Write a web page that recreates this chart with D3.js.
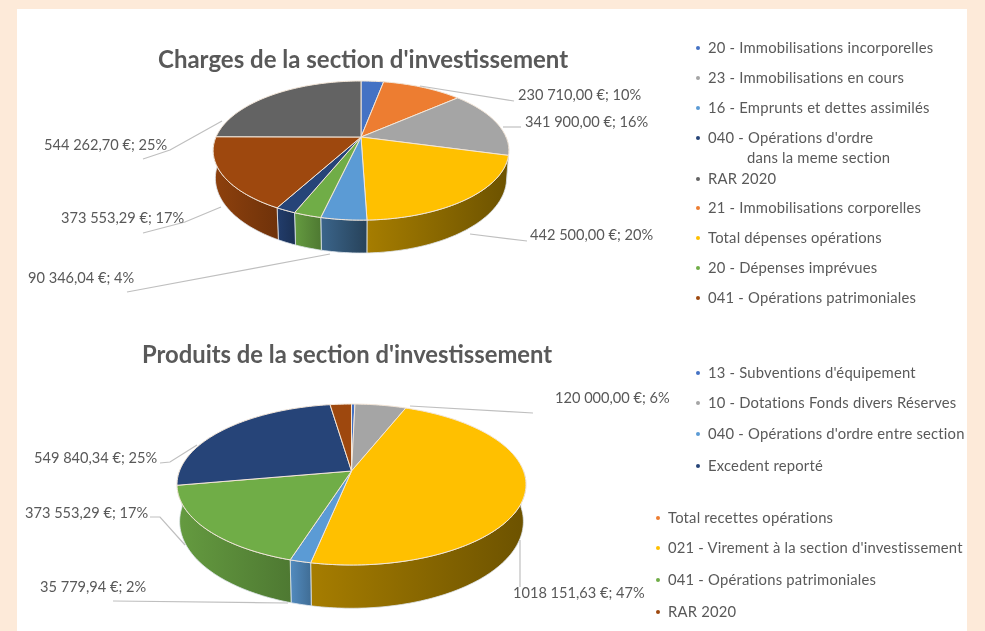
<!DOCTYPE html>
<html>
<head>
<meta charset="utf-8" />
<title>Section d'investissement</title>
<style>
html, body { margin:0; padding:0; background:#fdead9; }
svg { display:block; filter:blur(0.7px); }
text { font-family:Lato, "Open Sans", sans-serif; fill:#595959; }
.small { font-size:14.6px; }
.leg { font-size:14.8px; letter-spacing:0.2px; }
</style>
</head>
<body>
<svg id="chart" width="985" height="631"></svg>
<script src="https://d3js.org/d3.v7.min.js"></script>
<script>
// top pie
var chargeCats = ["20 - Immobilisations incorporelles","21 - Immobilisations corporelles","23 - Immobilisations en cours","Total dépenses opérations","16 - Emprunts et dettes assimilés","20 - Dépenses imprévues","040 - Opérations d'ordre","041 - Opérations patrimoniales","RAR 2020"]
var chargeValues = [65000, 230710, 341900, 442500, 90346.04, 55000, 40000, 373553.29, 544262.70]
var chargeColors = ["#4472c4","#ed7d31","#a5a5a5","#ffc000","#5b9bd5","#70ad47","#264478","#9e480e","#636363"]
var chargeLabels = ["", "230 710,00 €; 10%", "341 900,00 €; 16%", "442 500,00 €; 20%", "90 346,04 €; 4%", "", "", "373 553,29 €; 17%", "544 262,70 €; 25%"]

// bottom pie
var produitCats = ["13 - Subventions d'équipement","10 - Dotations Fonds divers Réserves","021 - Virement à la section d'investissement","040 - Opérations d'ordre entre section","041 - Opérations patrimoniales","Excedent reporté","RAR 2020"]
var produitValues = [8000, 120000, 1018151.63, 35779.94, 373553.29, 549840.34, 50000]
var produitColors = ["#4472c4","#a5a5a5","#ffc000","#5b9bd5","#70ad47","#264478","#9e480e"]
var produitLabels = ["", "120 000,00 €; 6%", "1018 151,63 €; 47%", "35 779,94 €; 2%", "373 553,29 €; 17%", "549 840,34 €; 25%", ""]

var legendTop = [
    ["20 - Immobilisations incorporelles", "#4472c4"],
    ["23 - Immobilisations en cours", "#a5a5a5"],
    ["16 - Emprunts et dettes assimilés", "#5b9bd5"],
    ["040 - Opérations d'ordre", "#264478"],
    ["RAR 2020", "#636363"],
    ["21 - Immobilisations corporelles", "#ed7d31"],
    ["Total dépenses opérations", "#ffc000"],
    ["20 - Dépenses imprévues", "#70ad47"],
    ["041 - Opérations patrimoniales", "#9e480e"]
]
var legendTopY = [48, 78, 108, 138, 179, 208, 238, 268, 298]

var legendBottom = [
    ["13 - Subventions d'équipement", "#4472c4", 698, 373],
    ["10 - Dotations Fonds divers Réserves", "#a5a5a5", 698, 403],
    ["040 - Opérations d'ordre entre section", "#5b9bd5", 698, 434],
    ["Excedent reporté", "#264478", 698, 466],
    ["Total recettes opérations", "#ed7d31", 658, 518],
    ["021 - Virement à la section d'investissement", "#ffc000", 658, 548],
    ["041 - Opérations patrimoniales", "#70ad47", 658, 580],
    ["RAR 2020", "#9e480e", 658, 612]
]

var svg = d3.select("#chart")
var defs = svg.append("defs")

svg.append("rect").attr("x", 17).attr("y", 9).attr("width", 950).attr("height", 622).attr("fill", "#fff")

// homography for a tilted disc: v is towards the viewer
function projector(geo) {
    var sx = d3.scaleLinear().domain([-1, 1]).range([geo.cx - geo.b, geo.cx + geo.b])
    var sy = d3.scaleLinear().domain([-1, 1]).range([geo.cy - geo.a, geo.cy + geo.a])
    return function(a, r, drop) {
        var u = r * Math.sin(a), v = -r * Math.cos(a)
        var s = 1 / (1 - geo.k * v)
        var shrink = drop ? geo.shrink : 1
        return [geo.cx + (sx(u) - geo.cx) * s * shrink, sy(0) + (sy(v) - sy(0)) * s + (drop ? geo.depth * s : 0)]
    }
}

function shade(c, f) {
    return d3.rgb(c).darker(f).formatHex()
}

function drawPie(id, values, colors, geo) {
    var pie = d3.pie().value(function(d) { return d }).sort(null)
    var arcs = pie(values)
    var proj = projector(geo)
    var line = d3.line()
    var g = svg.append("g").attr("class", id)

    // side walls, only the front half of the rim shows
    arcs.forEach(function(d, i) {
        if (i > geo.lastWall) return
        var from = Math.max(d.startAngle, Math.PI / 2), to = Math.min(d.endAngle, Math.PI * 1.5)
        if (i === geo.lastWall) to = Math.PI * 1.5
        if (to <= from) return
        var steps = d3.range(from, to, 0.02).concat([to])
        var pts = steps.map(function(a) { return proj(a, 1, false) })
            .concat(steps.slice().reverse().map(function(a) { return proj(a, 1, true) }))
        var xs = d3.extent(pts, function(p) { return p[0] })
        var right = d.startAngle < Math.PI * 0.99
        var grad = defs.append("linearGradient").attr("id", id + "-side" + i)
            .attr("gradientUnits", "userSpaceOnUse")
            .attr("x1", xs[0]).attr("x2", xs[1]).attr("y1", 0).attr("y2", 0)
        grad.append("stop").attr("offset", 0).attr("stop-color", shade(colors[i], right ? 1.2 : 0.3))
        grad.append("stop").attr("offset", 1).attr("stop-color", shade(colors[i], right ? 2.4 : 1))
        g.append("path").attr("d", line(pts) + "Z").attr("fill", "url(#" + id + "-side" + i + ")")
            .attr("stroke", "#dfe6ee").attr("stroke-width", 0.8)
    })

    // top faces
    arcs.forEach(function(d, i) {
        if (d.endAngle === d.startAngle) return
        var steps = d3.range(d.startAngle, d.endAngle, 0.02).concat([d.endAngle])
        var pts = [proj(0, 0, false)].concat(steps.map(function(a) { return proj(a, 1, false) }))
        g.append("path").attr("d", line(pts) + "Z").attr("fill", colors[i])
            .attr("stroke", "#f3e6d8").attr("stroke-width", 1).attr("stroke-linejoin", "round")
    })
}

function leader(points) {
    svg.append("path").attr("d", d3.line()(points)).attr("fill", "none")
        .attr("stroke", "#bfbfbf").attr("stroke-width", 1.2)
}

function label(txt, x, y) {
    svg.append("text").attr("class", "small").attr("x", x).attr("y", y).text(txt)
}

drawPie("charges", chargeValues, chargeColors, {cx:361, cy:137, a:66.9, b:145, k:0.195, depth:26.5, shrink:0.985, lastWall:7})
drawPie("produits", produitValues, produitColors, {cx:351.5, cy:471, a:78.2, b:172, k:0.168, depth:36, shrink:0.985, lastWall:4})

svg.append("text").attr("x", 158).attr("y", 68).attr("font-size", 24).attr("font-weight", 700).text("Charges de la section d'investissement")
svg.append("text").attr("x", 142).attr("y", 363).attr("font-size", 23.8).attr("font-weight", 700).text("Produits de la section d'investissement")

// leader lines and data labels
leader([[420, 86], [514, 101]])
leader([[503, 127], [521, 127]])
leader([[470, 234], [527, 241]])
leader([[330, 254], [127, 292]])
leader([[222, 121], [170, 150], [143, 159]])
leader([[221, 207], [185, 222], [143, 233]])
label(chargeLabels[1], 518, 100)
label(chargeLabels[2], 525, 127)
label(chargeLabels[3], 530, 240)
label(chargeLabels[4], 28, 283)
label(chargeLabels[7], 61, 223)
label(chargeLabels[8], 44, 150)

leader([[410, 406], [533, 413]])
leader([[520, 540], [520, 587]])
leader([[288, 603], [113, 601]])
leader([[185, 545], [160, 517], [150, 517]])
leader([[197, 445], [170, 462], [160, 463]])
label(produitLabels[1], 555, 403)
label(produitLabels[2], 513, 598)
label(produitLabels[3], 40, 592)
label(produitLabels[4], 25, 518)
label(produitLabels[5], 34, 463)

// legends
legendTop.forEach(function(d, i) {
    svg.append("circle").attr("cx", 698).attr("cy", legendTopY[i]).attr("r", 2).attr("fill", d[1])
    svg.append("text").attr("class", "leg").attr("x", 708).attr("y", legendTopY[i] + 5).text(d[0])
})
svg.append("text").attr("class", "leg").attr("x", 747).attr("y", 163).text("dans la meme section")

legendBottom.forEach(function(d) {
    svg.append("circle").attr("cx", d[2]).attr("cy", d[3]).attr("r", 2).attr("fill", d[1])
    svg.append("text").attr("class", "leg").attr("x", d[2] + 10).attr("y", d[3] + 5).text(d[0])
})
</script>
</body>
</html>
